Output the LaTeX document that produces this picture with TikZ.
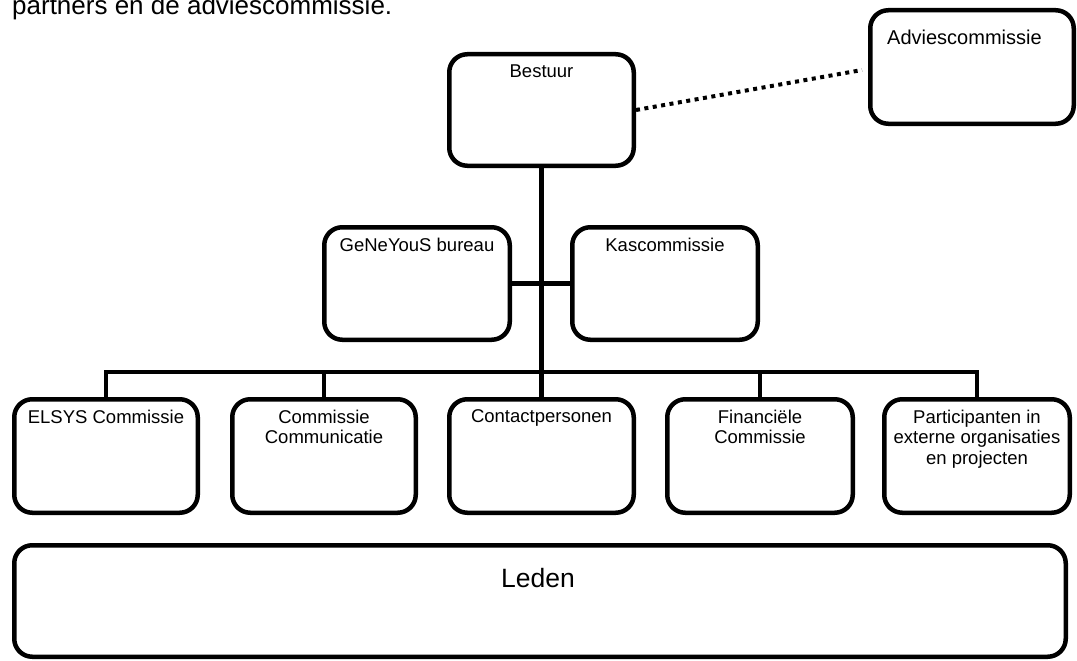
\documentclass[tikz,border=0pt]{standalone}
\usepackage{fontspec}
\setmainfont{Liberation Sans}
\begin{document}
\begin{tikzpicture}[x=1pt,y=-1pt,
  box/.style={draw=black, line width=4.5pt, rounded corners=18pt, fill=white, inner sep=0pt},
  conn/.style={draw=black, line width=4.5pt},
  lbl/.style={inner sep=0pt, align=center, font=\fontsize{18.5}{20.5}\selectfont, anchor=north},
  dotline/.style={draw=black, line width=4pt, dash pattern=on 4pt off 4.5pt}
]
\useasboundingbox (0,0) rectangle (1077,661);
\clip (0,0) rectangle (1077,661);

% title fragment
\node[inner sep=0pt, anchor=base west, font=\fontsize{26}{30}\selectfont] (title) at (12,15) {partners en de adviescommissie.};

% boxes
\node[box, minimum width=184.5pt, minimum height=111.5pt] (bestuur) at (541.5,110) {};
\node[box, minimum width=203.5pt, minimum height=113.5pt] (advies) at (972,67) {};
\node[box, minimum width=185.5pt, minimum height=112.5pt] (geneyous) at (417,283.5) {};
\node[box, minimum width=185.5pt, minimum height=112.5pt] (kas) at (665,283.5) {};

\node[box, minimum width=183.5pt, minimum height=113.5pt] (elsys) at (106,456) {};
\node[box, minimum width=183.5pt, minimum height=113.5pt] (comm) at (324,456) {};
\node[box, minimum width=184.5pt, minimum height=113.5pt] (contact) at (541.5,456) {};
\node[box, minimum width=185.5pt, minimum height=113.5pt] (fin) at (760,456) {};
\node[box, minimum width=185.5pt, minimum height=113.5pt] (part) at (977,456) {};

\node[box, minimum width=1051.5pt, minimum height=111.5pt] (leden) at (540,601) {};

% connectors
\coordinate (bus) at (541.5,372);
\draw[conn] (bestuur.south) -- (contact.north);
\draw[conn] (geneyous.east) -- (kas.west);
\draw[conn] (elsys.north) -- (elsys.north |- bus) -- (part.north |- bus) -- (part.north);
\draw[conn] (comm.north) -- (comm.north |- bus);
\draw[conn] (fin.north) -- (fin.north |- bus);
\draw[dotline] (bestuur.east) -- ([yshift=-3pt, xshift=-6pt]advies.west);

% labels
\node[lbl] (tbestuur) at ([yshift=-12.5pt]bestuur.north) {Bestuur};
\node[inner sep=0pt, anchor=base west, font=\fontsize{20}{24}\selectfont] (tadvies) at (887,45) {Adviescommissie};
\node[lbl] (tgeneyous) at ([yshift=-12.5pt]geneyous.north) {GeNeYouS bureau};
\node[lbl] (tkas) at ([yshift=-12.5pt]kas.north) {Kascommissie};
\node[lbl] (telsys) at ([yshift=-12.5pt]elsys.north) {ELSYS Commissie};
\node[lbl] (tcomm) at ([yshift=-12.5pt]comm.north) {Commissie\\Communicatie};
\node[lbl] (tcontact) at ([yshift=-12.5pt]contact.north) {Contactpersonen};
\node[lbl] (tfin) at ([yshift=-12.5pt]fin.north) {Financiële\\Commissie};
\node[lbl] (tpart) at ([yshift=-12.5pt]part.north) {Participanten in\\externe organisaties\\en projecten};
\node[inner sep=0pt, anchor=base, font=\fontsize{26.5}{30}\selectfont] (tleden) at (538,587) {Leden};
\end{tikzpicture}
\end{document}
